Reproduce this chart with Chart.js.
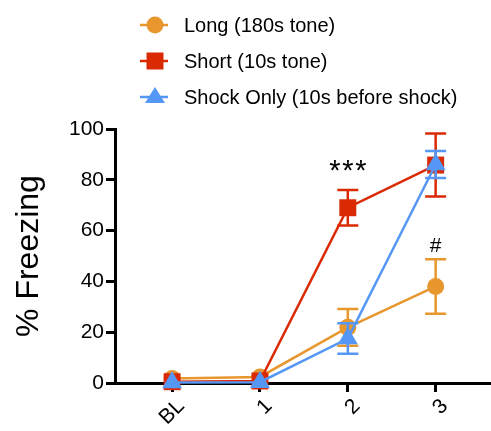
<!DOCTYPE html>
<html>
<head>
<meta charset="utf-8">
<script src="https://cdn.jsdelivr.net/npm/chart.js@4/dist/chart.umd.min.js"></script>
<style>
  html, body { margin: 0; padding: 0; background: #fff; }
  #wrap { position: relative; width: 491px; height: 431px; font-family: "Liberation Sans", Arial, sans-serif; }
  #chart { position: absolute; left: 0; top: 0; }
  .legend-row { position: absolute; left: 138px; height: 30px; display: flex; align-items: center; font-size: 20px; color: #000; }
  .legend-row svg { margin-right: 14px; }
</style>
</head>
<body>
<div id="wrap">
  <canvas id="chart" width="491" height="431"></canvas>
  <div id="legend"></div>
</div>
<script>
const sessions = ['BL', '1', '2', '3'];
const seriesNames = ['Long (180s tone)', 'Short (10s tone)', 'Shock Only (10s before shock)'];
const seriesColors = ['#E8962E', '#DA2A04', '#5597F5'];
const seriesShapes = ['circle', 'rect', 'triangle'];

const longMean = [1.8, 2.4, 21.9, 38];
const longErr = [0, 0, 7.2, 10.7];
const shortMean = [0.5, 0.8, 69, 85.8];
const shortErr = [0, 0, 7, 12.4];
const shockMean = [0.2, 0.3, 17.5, 86];
const shockErr = [0, 0, 6, 5.3];

const yTicks = [0, 20, 40, 60, 80, 100];

// significance marks: [session index, y value, text]
const marks = [[2, 83, '***'], [3, 54, '#']];

const means = [longMean, shortMean, shockMean];
const errs = [longErr, shortErr, shockErr];

// HTML legend
const legendEl = document.getElementById('legend');
const legendTops = [10, 46, 82];
seriesNames.forEach((name, i) => {
  const c = seriesColors[i];
  let shape = '';
  if (seriesShapes[i] === 'circle') shape = `<circle cx="17" cy="15" r="8.5" fill="${c}"/>`;
  if (seriesShapes[i] === 'rect') shape = `<rect x="8.5" y="6.5" width="17" height="17" fill="${c}"/>`;
  if (seriesShapes[i] === 'triangle') shape = `<polygon points="17,5 27,21 7,21" fill="${c}"/>`;
  const row = document.createElement('div');
  row.className = 'legend-row';
  row.style.top = legendTops[i] + 'px';
  row.innerHTML = `<svg width="32" height="30"><line x1="2" y1="15" x2="30" y2="15" stroke="${c}" stroke-width="2.5"/>${shape}</svg><span>${name}</span>`;
  legendEl.appendChild(row);
});

// error bars, drawn just before each dataset so markers sit on top
const errorBars = {
  id: 'errorBars',
  beforeDatasetDraw(chart, args) {
    const i = args.index;
    const ds = chart.data.datasets[i];
    const x = chart.scales.x, y = chart.scales.y;
    const ctx = chart.ctx;
    ctx.save();
    ctx.strokeStyle = ds.borderColor;
    ctx.lineWidth = 2.5;
    ds.errors.forEach((e, j) => {
      if (!e) return;
      const m = ds.data[j].y;
      const px = x.getPixelForValue(j);
      const top = y.getPixelForValue(m + e);
      const bot = y.getPixelForValue(m - e);
      ctx.beginPath();
      ctx.moveTo(px, top); ctx.lineTo(px, bot);
      ctx.moveTo(px - 10.5, top); ctx.lineTo(px + 10.5, top);
      ctx.moveTo(px - 10.5, bot); ctx.lineTo(px + 10.5, bot);
      ctx.stroke();
    });
    ctx.restore();
  }
};

const sigMarks = {
  id: 'sigMarks',
  afterDatasetsDraw(chart) {
    const ctx = chart.ctx;
    ctx.save();
    ctx.fillStyle = '#000';
    ctx.textAlign = 'center';
    ctx.textBaseline = 'middle';
    marks.forEach(([j, v, t]) => {
      const px = chart.scales.x.getPixelForValue(j);
      const py = chart.scales.y.getPixelForValue(v);
      if (t === '#') {
        ctx.font = '21px "Liberation Sans", Arial, sans-serif';
        ctx.fillText(t, px, py);
      } else {
        // spread the asterisks a little wider, like the original
        ctx.font = '29px "Liberation Sans", Arial, sans-serif';
        [...t].forEach((ch, k) => ctx.fillText(ch, px + (k - 1) * 13, py));
      }
    });
    ctx.restore();
  }
};

const datasets = seriesNames.map((name, i) => ({
  label: name,
  data: means[i].map((v, j) => ({ x: j, y: v })),
  errors: errs[i],
  borderColor: seriesColors[i],
  backgroundColor: seriesColors[i],
  borderWidth: 2.5,
  pointStyle: seriesShapes[i],
  pointRadius: [8.5, 12, 11.5][i],
  pointBorderWidth: 0,
  order: 2 - i,
  clip: false
}));

new Chart(document.getElementById('chart'), {
  type: 'line',
  data: { datasets },
  plugins: [errorBars, sigMarks],
  options: {
    responsive: false,
    animation: false,
    layout: { autoPadding: false, padding: { top: 129, right: 0, bottom: 0, left: 0 } },
    plugins: { legend: { display: false }, tooltip: { enabled: false } },
    scales: {
      x: {
        type: 'linear',
        min: -0.65,
        max: 3.63,
        afterBuildTicks(scale) { scale.ticks = sessions.map((_, j) => ({ value: j })); },
        afterFit(scale) { scale.height = 48; scale.paddingRight = 0; scale.paddingLeft = 0; },
        ticks: {
          callback: (v) => sessions[v],
          color: '#000',
          font: { size: 21, family: '"Liberation Sans", Arial, sans-serif' },
          minRotation: 45,
          maxRotation: 45,
          labelOffset: 9,
          padding: 2
        },
        grid: { drawOnChartArea: false, drawTicks: true, tickLength: 9, tickWidth: 3, tickColor: '#000' },
        border: { display: true, color: '#000', width: 3 }
      },
      y: {
        min: 0,
        max: 100,
        afterBuildTicks(scale) { scale.ticks = yTicks.map(v => ({ value: v })); },
        afterFit(scale) { scale.width = 115; },
        ticks: {
          color: '#000',
          font: { size: 21, family: '"Liberation Sans", Arial, sans-serif' },
          padding: 2
        },
        grid: { drawOnChartArea: false, drawTicks: true, tickLength: 9, tickWidth: 3, tickColor: '#000' },
        border: { display: true, color: '#000', width: 3 },
        title: {
          display: true,
          text: '% Freezing',
          color: '#000',
          font: { size: 32, family: '"Liberation Sans", Arial, sans-serif' },
          padding: { top: 10, bottom: 2 }
        }
      }
    }
  }
});
</script>
</body>
</html>
